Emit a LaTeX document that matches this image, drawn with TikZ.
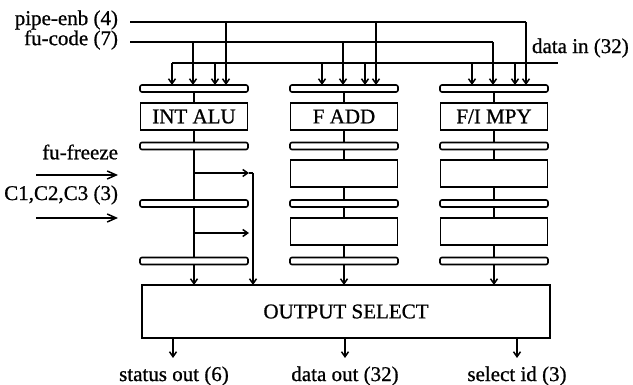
\documentclass[tikz,border=0pt]{standalone}
\usepackage{fontspec}
\setmainfont[FakeBold=0.8]{Liberation Serif}
\usetikzlibrary{arrows.meta,calc}
\begin{document}
\begin{tikzpicture}[x=1pt,y=-1pt,
  every node/.style={inner sep=0pt, outer sep=0pt},
  lbl/.style={font=\fontsize{21}{23}\selectfont},
  reg/.style={draw, line width=1.6pt, rounded corners=2pt, minimum width=108pt, minimum height=7pt, fill=white},
  unit/.style={draw, line width=1.6pt, minimum width=107pt, minimum height=27pt, font=\fontsize{21}{23}\selectfont},
  wire/.style={line width=1.5pt},
  arr/.style={wire, -{Straight Barb[length=5pt,width=7pt]}},
  arrl/.style={wire, -{Straight Barb[length=9pt,width=8pt]}}
]
\useasboundingbox (0,0) rectangle (633,385);

% registers and units
\foreach \c/\x in {a/194,b/344,c/494}{
  \node[reg] (r1\c) at (\x,88.5) {};
  \node[reg] (r2\c) at (\x,146) {};
  \node[reg] (r3\c) at (\x,203.5) {};
  \node[reg] (r4\c) at (\x,261) {};
}
\node[unit] (ua) at (194,116.5) {INT ALU};
\node[unit] (ub) at (344,116.5) {F ADD};
\node[unit] (uc) at (494,116.5) {F/I MPY};
\node[unit] (u2b) at (344,173.5) {};
\node[unit] (u3b) at (344,231.5) {};
\node[unit] (u2c) at (494,173.5) {};
\node[unit] (u3c) at (494,231.5) {};

\node[draw, line width=1.6pt, minimum width=408pt, minimum height=53pt, lbl] (os) at (346,311.5) {OUTPUT SELECT};

% column connections
\draw[wire] (r1a) -- (ua);
\draw[wire] (ua) -- (r2a);
\draw[wire] (r2a) -- (r3a);
\draw[wire] (r3a) -- (r4a);
\foreach \c in {b,c}{
  \draw[wire] (r1\c) -- (u\c);
  \draw[wire] (u\c) -- (r2\c);
  \draw[wire] (r2\c) -- (u2\c);
  \draw[wire] (u2\c) -- (r3\c);
  \draw[wire] (r3\c) -- (u3\c);
  \draw[wire] (u3\c) -- (r4\c);
}
\foreach \c in {a,b,c}{
  \draw[arr] (r4\c) -- (r4\c.south |- os.north);
}

% INT ALU branches
\coordinate (br1) at (194,173);
\coordinate (br1e) at (249,173);
\coordinate (bus) at (253,173);
\coordinate (br2) at (194,233);
\coordinate (br2e) at (249,233);
\draw[arr] (br1) -- (br1e);
\draw[wire] (br1e) -- (bus);
\draw[arr] (bus) -- (bus |- os.north);
\draw[arr] (br2) -- (br2e);

% input labels
\node[lbl, anchor=east] (lpe) at (118,20) {pipe-enb (4)};
\node[lbl, anchor=east] (lfc) at (118,40) {fu-code (7)};
\node[lbl, anchor=west] (ldi) at (532,48) {data in (32)};
\coordinate (pe0) at (130,22);
\coordinate (fc0) at (130,42);
\coordinate (di1) at (558,63);

\foreach \c in {a,b,c}{
  \coordinate (d\c) at ($(r1\c.north)+(-22,0)$);
  \coordinate (f\c) at ($(r1\c.north)+(-1,0)$);
  \coordinate (e\c) at ($(r1\c.north)+(21,0)$);
  \coordinate (p\c) at ($(r1\c.north)+(32,0)$);
}
\draw[wire] (pe0) -- (pc |- pe0);
\draw[wire] (fc0) -- (fc |- fc0);
\draw[wire] (da |- di1) -- (di1);
\foreach \c in {a,b,c}{
  \draw[arr] (d\c |- di1) -- (d\c);
  \draw[arr] (e\c |- di1) -- (e\c);
  \draw[arr] (f\c |- fc0) -- (f\c);
  \draw[arr] (p\c |- pe0) -- (p\c);
}

% left control inputs
\node[lbl, anchor=east] (lff) at (118,152) {fu-freeze};
\node[lbl, anchor=east] (lcc) at (118,195) {C1,C2,C3 (3)};
\coordinate (ff0) at (36,175);
\coordinate (ff1) at (118,175);
\coordinate (cc0) at (36,218);
\coordinate (cc1) at (118,218);
\draw[arrl] (ff0) -- (ff1);
\draw[arrl] (cc0) -- (cc1);

% outputs
\coordinate (o1) at (173,358);
\coordinate (o2) at (345,358);
\coordinate (o3) at (517,358);
\draw[arr] (o1 |- os.south) -- (o1);
\draw[arr] (o2 |- os.south) -- (o2);
\draw[arr] (o3 |- os.south) -- (o3);
\node[lbl] (t1) at (174,376) {status out (6)};
\node[lbl] (t2) at (345,376) {data out (32)};
\node[lbl] (t3) at (517,376) {select id (3)};
\end{tikzpicture}
\end{document}
